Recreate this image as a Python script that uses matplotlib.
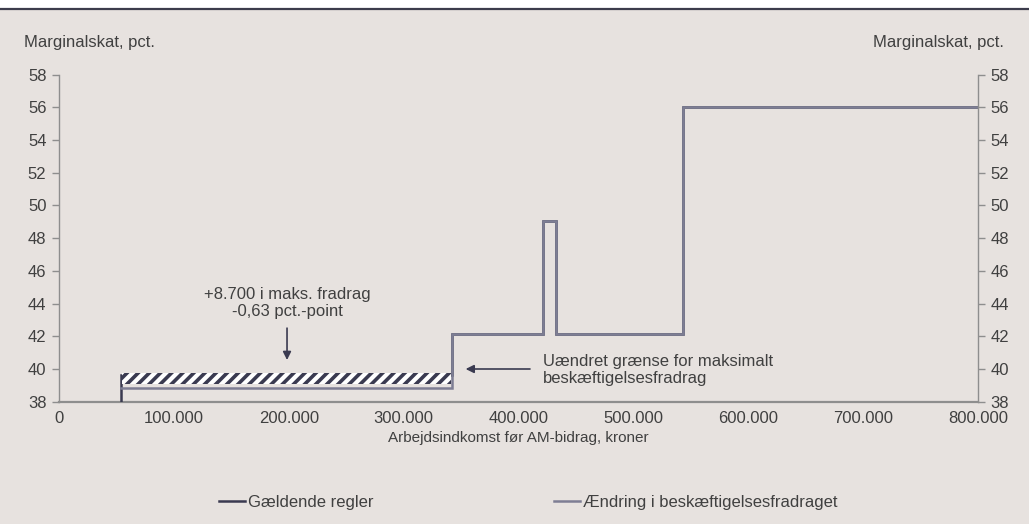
import matplotlib
matplotlib.use("Agg")
import matplotlib.pyplot as plt
from matplotlib.patches import Rectangle
from matplotlib.lines import Line2D

plt.rcParams['font.family'] = ['Liberation Sans', 'DejaVu Sans']
plt.rcParams['hatch.linewidth'] = 2.6

# Step curves: income (kroner) and marginal tax (pct.)
current_x = [53700, 53700, 342400, 342400, 421500, 421500, 432300, 432300, 543200, 543200, 800000]
current_y = [38.0, 39.62, 39.62, 42.14, 42.14, 49.05, 49.05, 42.14, 42.14, 56.0, 56.0]

change_x = [53700, 342400, 342400, 421500, 421500, 432300, 432300, 543200, 543200, 800000]
change_y = [38.86, 38.86, 42.14, 42.14, 49.05, 49.05, 42.14, 42.14, 56.0, 56.0]

# Band showing the drop in marginal tax from the higher deduction
band_x = [54500, 341600]
band_low = [39.11, 39.11]
band_high = [39.74, 39.74]

y_ticks = [38, 40, 42, 44, 46, 48, 50, 52, 54, 56, 58]
x_ticks = [0, 100000, 200000, 300000, 400000, 500000, 600000, 700000, 800000]
x_tick_labels = ["0", "100.000", "200.000", "300.000", "400.000", "500.000", "600.000", "700.000", "800.000"]

bg = "#E7E2DF"
dark = "#3A3A50"
light = "#7E7E94"
axis_col = "#8E8E8E"
text_col = "#404040"
fs = 12

fig = plt.figure(figsize=(10.29, 5.24), dpi=100, facecolor=bg)
W, H = 1029, 524

# white strip and rule at the top
fig.patches.append(Rectangle((0, 1 - 8 / H), 1, 8 / H, transform=fig.transFigure,
                             facecolor="white", edgecolor="none", zorder=0))
fig.lines.append(Line2D([0, 1], [1 - 9 / H, 1 - 9 / H], transform=fig.transFigure,
                        color="#3C3C4C", linewidth=1.6))

left = 59 / W
right = 978 / W
bottom = 1 - 401.7 / H
top = 1 - 74.7 / H
ax = fig.add_axes([left, bottom, right - left, top - bottom])
ax.set_facecolor(bg)

ax.plot(current_x, current_y, color=dark, linewidth=1.8, solid_joinstyle="miter", zorder=3,
        label="Gældende regler")
ax.plot(change_x, change_y, color=light, linewidth=1.8, solid_joinstyle="miter", zorder=4,
        label="Ændring i beskæftigelsesfradraget")
ax.fill_between(band_x, band_low, band_high, facecolor="white", edgecolor=dark,
                hatch="///", linewidth=0, zorder=5)

ax.set_xlim(0, 800000)
ax.set_ylim(38, 58)
ax.set_yticks(y_ticks)
ax.set_xticks(x_ticks)
ax.set_xticklabels(x_tick_labels)

for s in ["top", "right"]:
    ax.spines[s].set_visible(False)
ax.spines["left"].set_color(axis_col)
ax.spines["bottom"].set_color(axis_col)
ax.spines["left"].set_linewidth(1.0)
ax.spines["bottom"].set_linewidth(1.6)
ax.tick_params(axis="y", direction="out", length=5, width=1.0, color=axis_col,
               labelsize=fs, labelcolor=text_col, pad=4)
ax.tick_params(axis="x", length=0, labelsize=fs, labelcolor=text_col, pad=7)

ax2 = ax.twinx()
ax2.set_ylim(38, 58)
ax2.set_yticks(y_ticks)
for s in ["top", "left", "bottom"]:
    ax2.spines[s].set_visible(False)
ax2.spines["right"].set_color(axis_col)
ax2.spines["right"].set_linewidth(1.0)
ax2.tick_params(axis="y", direction="out", length=5, width=1.0, color=axis_col,
                labelsize=fs, labelcolor=text_col, pad=4)

ax.set_xlabel("Arbejdsindkomst før AM-bidrag, kroner", fontsize=11, color=text_col, labelpad=3)

fig.text(24 / W, 1 - 43 / H, "Marginalskat, pct.", fontsize=fs, color=text_col,
         ha="left", va="center")
fig.text(1004 / W, 1 - 43 / H, "Marginalskat, pct.", fontsize=fs, color=text_col,
         ha="right", va="center")

arrow_style = dict(arrowstyle="-|>", color=dark, lw=1.2, mutation_scale=12, shrinkA=0, shrinkB=0)
ax.annotate("", xy=(198500, 40.55), xytext=(198500, 42.5), arrowprops=arrow_style, zorder=6)
ax.text(198500, 44.05, "+8.700 i maks. fradrag\n-0,63 pct.-point", fontsize=fs, color=text_col,
        ha="center", va="center", linespacing=1.2)

ax.annotate("", xy=(354000, 40.0), xytext=(410000, 40.0), arrowprops=arrow_style, zorder=6)
ax.text(421000, 39.94, "Uændret grænse for maksimalt\nbeskæftigelsesfradrag", fontsize=fs,
        color=text_col, ha="left", va="center", linespacing=1.2)

leg = fig.legend(handles=[Line2D([], [], color=dark, linewidth=1.8),
                          Line2D([], [], color=light, linewidth=1.8)],
                 labels=["Gældende regler", "Ændring i beskæftigelsesfradraget"],
                 loc="center", bbox_to_anchor=(528 / W, 1 - 502 / H), ncol=2, frameon=False,
                 fontsize=fs, handlelength=1.6, handletextpad=0.15, columnspacing=10.8,
                 labelcolor=text_col)

fig.savefig("out.png", dpi=100, facecolor=bg)
